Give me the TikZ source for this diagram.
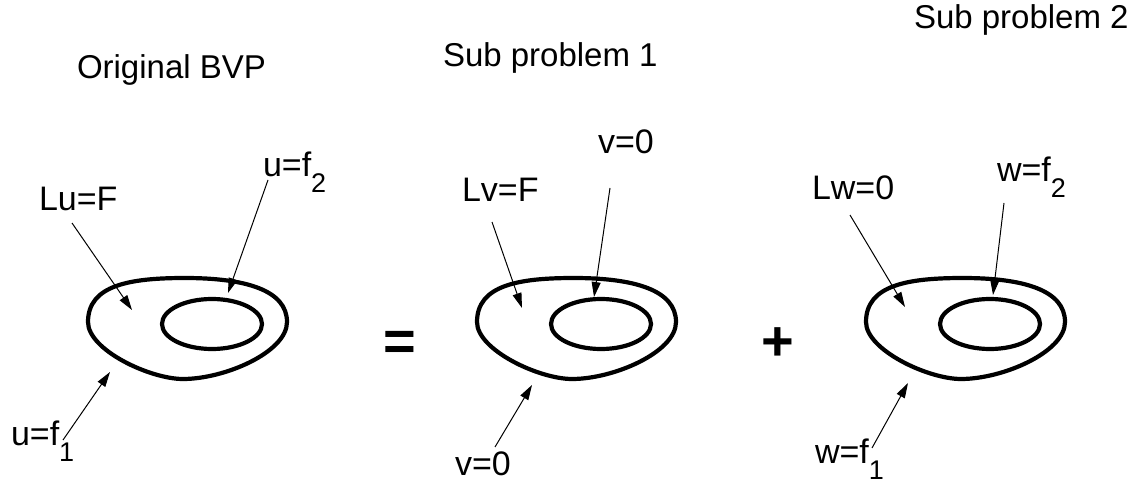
\documentclass[tikz,border=0pt]{standalone}
\usepackage{fontspec}
\setmainfont{Liberation Sans}
\usetikzlibrary{arrows.meta}
\newcommand{\lbl}{\fontsize{34}{40}\selectfont}
\newcommand{\ttl}{\fontsize{33}{40}\selectfont}
\newcommand{\sbs}[1]{\raisebox{-16pt}{\fontsize{27}{30}\selectfont #1}}
\tikzset{
  lab/.style={anchor=base west, inner sep=0pt, outer sep=0pt, font=\lbl},
  ttlab/.style={anchor=base west, inner sep=0pt, outer sep=0pt, font=\ttl},
  sign/.style={inner sep=0pt, font=\fontsize{56}{60}\selectfont\bfseries},
  pointer/.style={line width=1pt, -{Triangle[length=15pt,width=9pt]}},
  boundary/.style={line width=4.2pt, line join=round}
}
\begin{document}
\begin{tikzpicture}[x=1pt,y=-1pt]
\useasboundingbox (0,0) rectangle (1145,486);
% domains
\foreach \dx in {0,389,778}{
  \begin{scope}[xshift=\dx pt]
    \draw[boundary] (88,322) .. controls (88,285) and (130,278) .. (185,278)
      .. controls (245,278) and (287,290) .. (287,322)
      .. controls (287,352) and (225,379) .. (183,379)
      .. controls (150,379) and (88,350) .. (88,322) -- cycle;
    \draw[boundary] (212,324) ellipse [x radius=50, y radius=25];
  \end{scope}
}
% titles
\node[ttlab] (t1) at (77,79) {Original BVP};
\node[ttlab] (t2) at (443,67) {Sub problem 1};
\node[ttlab] (t3) at (914,29) {Sub problem 2};
% signs
\node[sign] (eq) at (400,346) {=};
\node[sign] (pl) at (778,344) {+};
% labels, problem 1
\node[lab] (Lu) at (39,211) {Lu=F};
\node[lab] (uf2) at (263,177) {u=f\sbs{2}};
\node[lab] (uf1) at (11,445) {u=f\sbs{1}};
% labels, problem 2
\node[lab] (Lv) at (462,202) {Lv=F};
\node[lab] (v0a) at (598,154) {v=0};
\node[lab] (v0b) at (455,475) {v=0};
% labels, problem 3
\node[lab] (Lw) at (812,200) {Lw=0};
\node[lab] (wf2) at (997,182) {w=f\sbs{2}};
\node[lab] (wf1) at (815,463) {w=f\sbs{1}};
% arrow end points
\coordinate (a1s) at (72,223);   \coordinate (a1t) at (132,310);
\coordinate (a2s) at (268,180);  \coordinate (a2t) at (228,293);
\coordinate (a3s) at (63,440);   \coordinate (a3t) at (110,372);
\coordinate (b1s) at (492,222);  \coordinate (b1t) at (522,308);
\coordinate (b2s) at (610,188);  \coordinate (b2t) at (594,297);
\coordinate (b3s) at (495,447);  \coordinate (b3t) at (532,385);
\coordinate (c1s) at (850,215);  \coordinate (c1t) at (905,307);
\coordinate (c2s) at (1004,203); \coordinate (c2t) at (993,295);
\coordinate (c3s) at (872,448);  \coordinate (c3t) at (908,383);
\draw[pointer] (a1s) -- (a1t);
\draw[pointer] (a2s) -- (a2t);
\draw[pointer] (a3s) -- (a3t);
\draw[pointer] (b1s) -- (b1t);
\draw[pointer] (b2s) -- (b2t);
\draw[pointer] (b3s) -- (b3t);
\draw[pointer] (c1s) -- (c1t);
\draw[pointer] (c2s) -- (c2t);
\draw[pointer] (c3s) -- (c3t);
\end{tikzpicture}
\end{document}
